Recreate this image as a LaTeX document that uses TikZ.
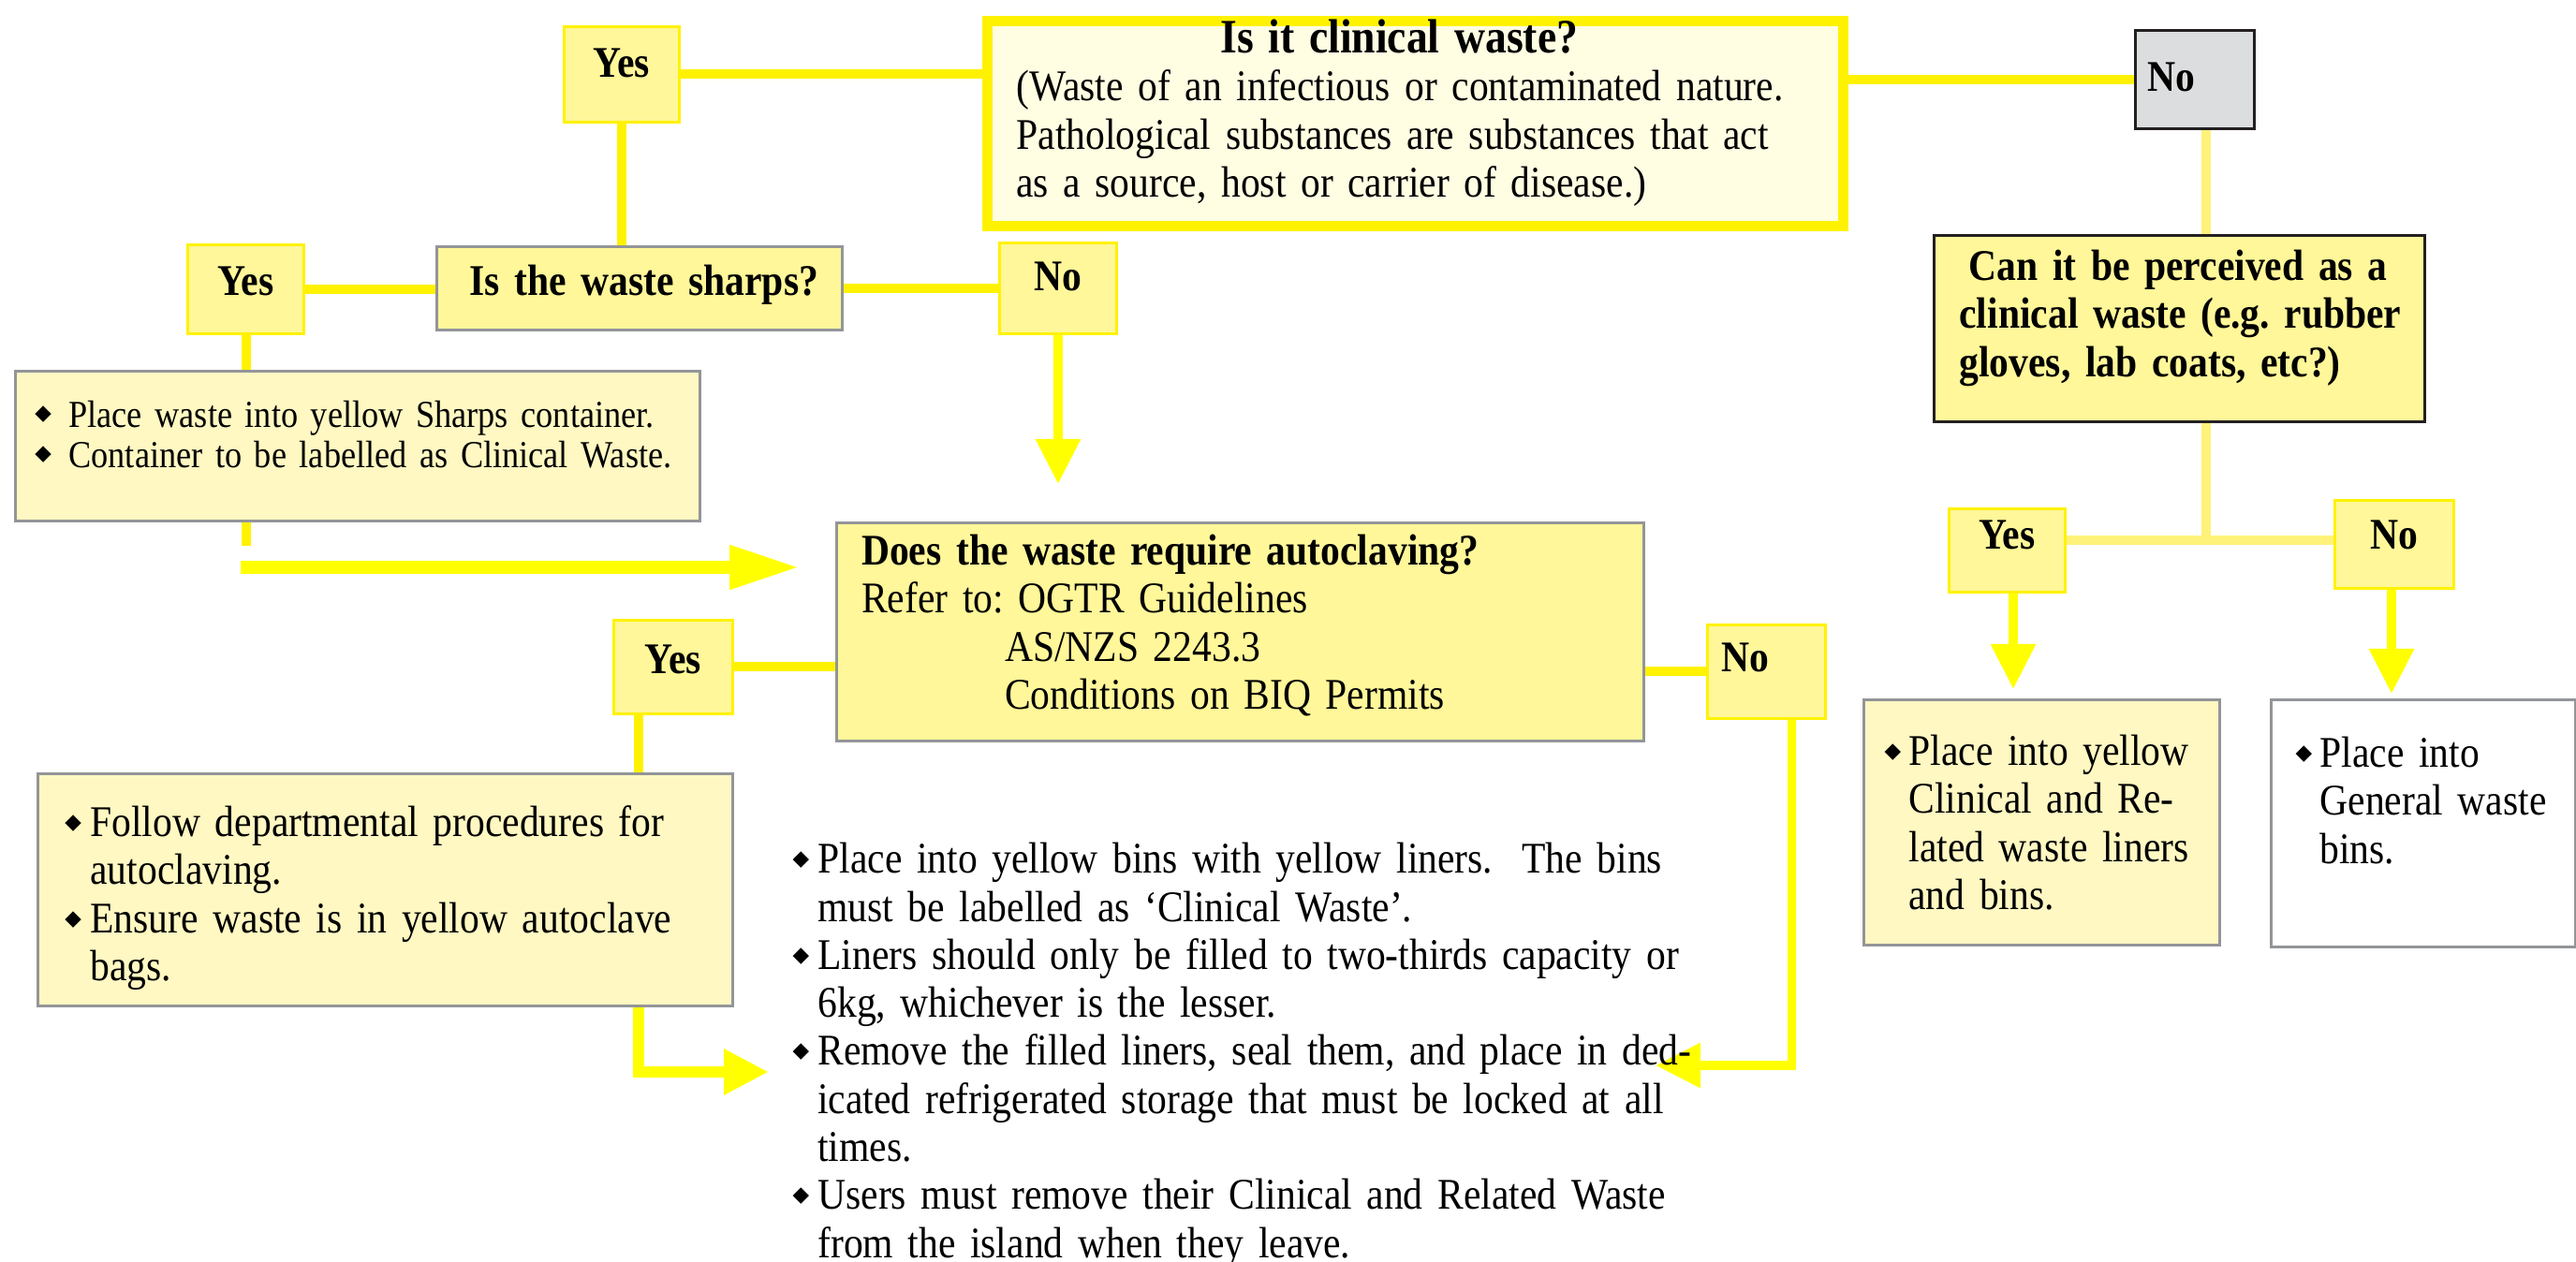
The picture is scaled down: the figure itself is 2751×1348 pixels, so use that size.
\documentclass[tikz,border=0pt]{standalone}
\usepackage{fontspec}
\setmainfont{Liberation Serif}[FakeStretch=0.89]
\newfontfamily\symf{DejaVu Sans}
\usetikzlibrary{arrows.meta}
\frenchspacing
\definecolor{lineY}{HTML}{FFF200}
\definecolor{arrowY}{HTML}{FFFF00}
\definecolor{lightY}{HTML}{FFF27A}
\definecolor{labFill}{HTML}{FFF799}
\definecolor{clinFill}{HTML}{FFFDE2}
\definecolor{paleFill}{HTML}{FFF8C2}
\definecolor{grayB}{HTML}{939598}
\definecolor{darkB}{HTML}{231F20}
\definecolor{grayFill}{HTML}{DCDDDE}
\newcommand\mainsize{\fontsize{13.3pt}{14.6pt}\selectfont}
\newcommand\smallsz{\fontsize{11.6pt}{12.3pt}\selectfont}
\newcommand\dmd{\raisebox{0.8mm}{\symf\fontsize{6.5pt}{6.5pt}\selectfont ◆}}
\newcommand\itm[2]{\hangindent=#1\hangafter=1\leavevmode\makebox[#1][l]{\dmd}\ignorespaces#2\par}
\pgfdeclarelayer{bg}
\pgfsetlayers{bg,main}
\begin{document}
\begin{tikzpicture}[x=0.1mm,y=-0.1mm,
  box/.style={anchor=north west, inner sep=0pt, align=left, font=\mainsize},
  lab/.style={box, draw=lineY, line width=0.3mm, fill=labFill, align=center, font=\mainsize\bfseries},
  graybox/.style={box, draw=grayB, line width=0.3mm},
  conn/.style={draw=lineY, line width=1mm},
  lconn/.style={draw=lightY, line width=1mm},
  arr/.style={draw=arrowY, line width=0.95mm, -{Triangle[width=4.6mm,length=4.8mm]}}
]
\useasboundingbox (0,0) rectangle (2751,1348);
% ---------- top level
\node[box, draw=lineY, line width=1.1mm, fill=clinFill, text width=91.4mm, text height=3.35mm, text depth=18.55mm] (clin) at (1048.5,17.5)
  {\leftskip=3.15mm \hspace*{21.8mm}{\fontsize{14.6pt}{14.6pt}\selectfont\bfseries Is it clinical waste?}\newline
   (Waste of an infectious or contaminated nature.\newline
   Pathological substances are substances that act\newline
   as a source, host or carrier of disease.)\par};
\node[lab, text width=12.3mm, text height=5.4mm, text depth=4.8mm] (yesA) at (601,27) {Yes};
\node[lab, draw=darkB, fill=grayFill, align=left, text width=12.7mm, text height=6.5mm, text depth=4.0mm] (noA) at (2279,31) {\hspace*{1.3mm}No};
% ---------- sharps branch
\node[graybox, fill=labFill, font=\mainsize\bfseries, text width=43.3mm, text height=5.2mm, text depth=3.7mm] (sharps) at (465,262)
  {\leftskip=3.5mm Is the waste sharps?\par};
\node[lab, text width=12.4mm, text height=5.4mm, text depth=4.1mm] (yesB) at (199,260) {Yes};
\node[lab, text width=12.5mm, text height=5.1mm, text depth=4.6mm] (noB) at (1066,258) {No};
\node[graybox, fill=paleFill, font=\smallsz, text width=73.1mm, text height=6.0mm, text depth=10.0mm] (sharpsbox) at (15,395)
  {\leftskip=2.1mm
   \itm{3.6mm}{Place waste into yellow Sharps container.}
   \itm{3.6mm}{Container to be labelled as Clinical Waste.}};
% ---------- autoclave branch
\node[graybox, fill=labFill, text width=86.2mm, text height=4.5mm, text depth=18.8mm] (auto) at (892,557)
  {\leftskip=2.66mm \textbf{Does the waste require autoclaving?}\newline
   Refer to: OGTR Guidelines\newline
   \hspace*{15.3mm}AS/NZS 2243.3\newline
   \hspace*{15.3mm}Conditions on BIQ Permits\par};
\node[lab, text width=12.7mm, text height=5.7mm, text depth=4.3mm] (yesC) at (654,661) {Yes};
\node[lab, align=left, text width=12.6mm, text height=5.0mm, text depth=5.0mm] (noC) at (1822,666) {\hspace*{1.5mm}No};
\node[graybox, fill=paleFill, text width=74.2mm, text height=6.7mm, text depth=18.1mm] (autoyes) at (39,825)
  {\leftskip=2.9mm
   \itm{2.7mm}{Follow departmental procedures for\newline autoclaving.}
   \itm{2.7mm}{Ensure waste is in yellow autoclave\newline bags.}};
\node[box, text width=100mm, text height=4.0mm, text depth=41.4mm] (bins) at (846,892)
  {\itm{2.67mm}{Place into yellow bins with yellow liners.\ \ The bins\newline must be labelled as ‘Clinical Waste’.}
   \itm{2.67mm}{Liners should only be filled to two-thirds capacity or\newline 6kg, whichever is the lesser.}
   \itm{2.67mm}{Remove the filled liners, seal them, and place in ded-\newline icated refrigerated storage that must be locked at all\newline times.}
   \itm{2.67mm}{Users must remove their Clinical and Related Waste\newline from the island when they leave.}};
% ---------- right branch
\node[box, draw=darkB, line width=0.3mm, fill=labFill, font=\mainsize\bfseries, text width=52.4mm, text height=4.8mm, text depth=15.1mm] (perc) at (2064,250)
  {\leftskip=2.7mm \hspace*{1mm}Can it be perceived as a\newline
   clinical waste (e.g.\ rubber\newline
   gloves, lab coats, etc?)\par};
\node[lab, text width=12.4mm, text height=4.3mm, text depth=4.6mm] (yesD) at (2080,542) {Yes};
\node[lab, text width=12.7mm, text height=5.2mm, text depth=4.2mm] (noD) at (2492,533) {No};
\node[graybox, fill=paleFill, text width=38.0mm, text height=7.0mm, text depth=19.2mm] (yesdest) at (1989,746)
  {\leftskip=2.2mm
   \itm{2.6mm}{Place into yellow\newline Clinical and Re-\newline lated waste liners\newline and bins.}};
\node[graybox, fill=white, text width=32.5mm, text height=7.2mm, text depth=19.2mm] (nodest) at (2424,746)
  {\leftskip=2.6mm
   \itm{2.6mm}{Place into\newline General waste\newline bins.}};
% ---------- free ends and bends
\coordinate (sA) at (257,606);
\coordinate (sB) at (854,606);
\coordinate (xC) at (682,1145);
\coordinate (tC) at (821,1145);
\coordinate (xN) at (1913.5,1138);
\coordinate (tN) at (1768,1138);
\coordinate (jR) at (2356,577);
\coordinate (tY) at (2150,736);
\coordinate (tM) at (2554,741);
% ---------- connectors
\begin{pgfonlayer}{bg}
\fill[white] (0,0) rectangle (2751,1348);
\draw[conn] (yesA.east) -- (yesA.east -| clin.west);
\draw[conn] (noA.west) -- (noA.west -| clin.east);
\draw[conn] (yesA.south) -- (yesA.south |- sharps.north);
\draw[conn] (yesB.east) -- (yesB.east -| sharps.west);
\draw[conn] (sharps.east) -- (sharps.east -| noB.west);
\draw[conn] (yesB.south) -- (yesB.south |- sharpsbox.north);
\draw[arr] (noB.south) -- ++(0,159);
\draw[conn] (sharpsbox.south -| yesB.south) -- ++(0,25);
\draw[draw=arrowY, line width=1.4mm, -{Triangle[width=4.4mm,length=7.5mm]}] (sA) -- (sB);
\draw[conn] (yesC.east) -- (yesC.east -| auto.west);
\draw[conn] (noC.west) -- (noC.west -| auto.east);
\draw[conn] (yesC.south -| xC) -- (autoyes.north -| xC);
\draw[arr, line width=1.2mm] (autoyes.south -| xC) -- (xC) -- (tC);
\draw[arr] (noC.south -| xN) -- (xN) -- (tN);
\draw[lconn] (noA.south -| jR) -- (perc.north -| jR);
\draw[lconn] (perc.south -| jR) -- (jR);
\draw[lconn] (yesD.east |- jR) -- (noD.west |- jR);
\draw[arr] (yesD.south -| tY) -- (tY);
\draw[arr] (noD.south -| tM) -- (tM);
\end{pgfonlayer}
\end{tikzpicture}
\end{document}
